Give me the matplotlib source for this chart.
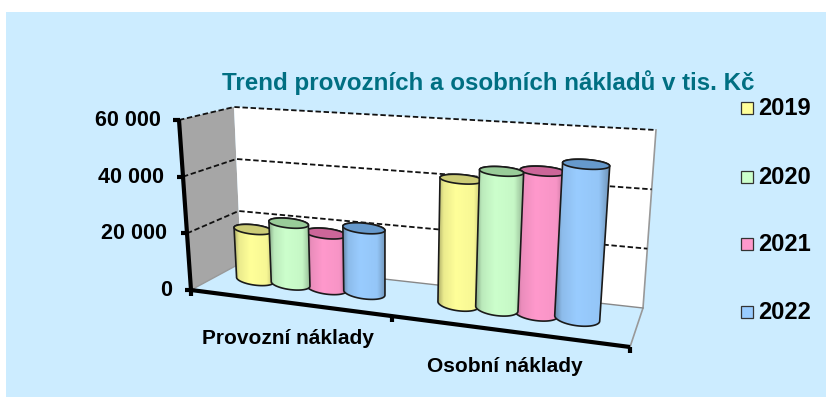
#Trend chart: 3D cylinders drawn on a flat axes through a small projection helper
import numpy as np
import matplotlib.pyplot as plt
from matplotlib.patches import Polygon, Rectangle

plt.rcParams["font.family"] = ["Liberation Sans", "DejaVu Sans"]

categories = ["Provozní náklady", "Osobní náklady"]
years = ["2019", "2020", "2021", "2022"]
provozni = [18300, 21900, 19500, 22700]
osobni = [42700, 46400, 47500, 50800]
y_ticks = [0, 20000, 40000, 60000]
y_labels = ["0", "20 000", "40 000", "60 000"]
colors = ["#FFFF99", "#CCFFCC", "#FF99CC", "#99CCFF"]
top_colors = ["#CCCC77", "#99CC99", "#CC6699", "#6699CC"]
title = "Trend provozních a osobních nákladů v tis. Kč"

BG = "#CCECFF"
TEAL = "#006F82"
Y_MAX = 60000

#box corners in pixels: floor and ceiling, front and back
floor_fl, floor_fr = np.array([191.0, 290.0]), np.array([630.0, 347.0])
floor_bl, floor_br = np.array([241.0, 263.0]), np.array([643.0, 308.0])
top_fl, top_fr = np.array([179.0, 120.0]), np.array([645.0, 153.0])
top_bl, top_br = np.array([234.0, 107.0]), np.array([656.0, 130.0])


def project(u, d, v):
    #u = category position 0..2, d = depth 0..1, v = value
    t = 0.4225 * u / (1 - 0.0775 * u)
    w = v / Y_MAX
    low = (1 - d) * ((1 - t) * floor_fl + t * floor_fr) + d * ((1 - t) * floor_bl + t * floor_br)
    high = (1 - d) * ((1 - t) * top_fl + t * top_fr) + d * ((1 - t) * top_bl + t * top_br)
    return (1 - w) * low + w * high


def ellipse(u, d, v, ru=0.1, rd=0.2, n=60):
    c = project(u, d, v)
    ax_u = (project(u + ru, d, v) - project(u - ru, d, v)) / 2
    dy = abs(project(u, d + rd, v)[1] - project(u, d - rd, v)[1]) / 2
    th = np.linspace(0, 2 * np.pi, n)
    return np.array([c + np.cos(a) * ax_u + np.array([0, np.sin(a) * dy]) for a in th])


def cylinder(ax, u, d, v, ru, color, top_color, zorder):
    base = ellipse(u, d, 0, ru=ru)
    top = ellipse(u, d, v, ru=ru)
    #lower half of the base (larger y) plus upper outline
    lower = base[:31]
    upper = top[30:]
    body = np.vstack([lower, upper])
    patch = Polygon(body, closed=True, facecolor="none", edgecolor="#1a1a1a", lw=1.2, zorder=zorder + 2)
    ax.add_patch(patch)
    x0, x1 = body[:, 0].min(), body[:, 0].max()
    y0, y1 = body[:, 1].min(), body[:, 1].max()
    rgb = np.array(plt.matplotlib.colors.to_rgb(color))
    s = np.linspace(0, 1, 80)
    shade = np.interp(s, [0, 0.12, 0.4, 0.8, 1], [0.68, 0.92, 1, 0.97, 0.72])
    grad = (rgb[None, None, :] * shade[None, :, None])
    im = ax.imshow(grad, extent=[x0, x1, y1, y0], aspect="auto", zorder=zorder, interpolation="bilinear")
    clip = Polygon(body, closed=True, transform=ax.transData)
    im.set_clip_path(clip)
    ax.add_patch(Polygon(top, closed=True, facecolor=top_color, edgecolor="#1a1a1a", lw=1.2, zorder=zorder + 3))


fig = plt.figure(figsize=(8.35, 4.08), dpi=100, facecolor="white")
ax = fig.add_axes([0, 0, 1, 1])
ax.set_xlim(0, 835)
ax.set_ylim(408, 0)
ax.axis("off")
ax.add_patch(Rectangle((6, 12), 820, 385, facecolor=BG, edgecolor="none", zorder=0))

#walls
ax.add_patch(Polygon([top_fl, top_bl, floor_bl, floor_fl], closed=True, facecolor="#A6A6A6", edgecolor="none", zorder=1))
ax.add_patch(Polygon([top_bl, top_br, floor_br, floor_bl], closed=True, facecolor="white", edgecolor="none", zorder=1))
ax.plot(*np.array([top_br, floor_br, floor_fr]).T, color="#999999", lw=1.2, zorder=2)
ax.plot(*np.array([floor_bl, floor_br]).T, color="#888888", lw=1.0, zorder=2)
ax.plot(*np.array([floor_fl, floor_bl]).T, color="#999999", lw=1.0, zorder=2)

#gridlines, dashed on both walls
for v in y_ticks[1:]:
    pts = np.array([project(0, 0, v), project(0, 1, v), project(2, 1, v)])
    ax.plot(pts[:, 0], pts[:, 1], color="#111111", lw=1.3, ls=(0, (3, 1.5)), zorder=3)

#cylinders, the second group sits a little tighter
group_x = [0.49, 1.49]
group_gap = [0.19, 0.175]
group_r = [0.103, 0.095]
order = [0, 2, 1, 3]
for g, values in enumerate([provozni, osobni]):
    for i in order:
        u = group_x[g] + (i - 1.5) * group_gap[g]
        cylinder(ax, u, 0.55, values[i], group_r[g], colors[i], top_colors[i], 5 + 5 * order.index(i))

#axes lines and ticks
ax.plot(*np.array([project(0, 0, 0), project(0, 0, Y_MAX)]).T, color="black", lw=3, zorder=40, solid_capstyle="butt")
ax.plot(*np.array([project(0, 0, 0), project(2, 0, 0)]).T, color="black", lw=3, zorder=40, solid_capstyle="butt")
label_right = [172, 167, 164, 161]
for v, lab, xr in zip(y_ticks, y_labels, label_right):
    p = project(0, 0, v)
    ax.plot([p[0] - 6, p[0] + 1], [p[1], p[1]], color="black", lw=3, zorder=40, solid_capstyle="butt")
    ax.text(xr, p[1] + 0.5, lab, ha="right", va="center", fontsize=15.5, fontweight="bold", color="black", zorder=50)
for u in [0, 1, 2]:
    p = project(u, 0, 0)
    ax.plot([p[0], p[0]], [p[1], p[1] + 6], color="black", lw=3, zorder=40, solid_capstyle="butt")

ax.text(288, 338, categories[0], ha="center", va="center", fontsize=15, fontweight="bold", color="black", zorder=50)
ax.text(505, 366, categories[1], ha="center", va="center", fontsize=15, fontweight="bold", color="black", zorder=50)

ax.text(488, 83, title, ha="center", va="center", fontsize=17.4, fontweight="bold", color=TEAL, zorder=50)

#legend
legend_y = [108, 177, 244, 312]
for yr, col, ly in zip(years, colors, legend_y):
    ax.add_patch(Rectangle((741, ly - 6), 12, 12, facecolor=col, edgecolor="#333333", lw=0.9, zorder=50))
    ax.text(758, ly + 0.5, yr, ha="left", va="center", fontsize=17, fontweight="bold", color="black", zorder=50)

ax.set_xlim(0, 835)
ax.set_ylim(408, 0)
fig.savefig("out.png", dpi=100)
